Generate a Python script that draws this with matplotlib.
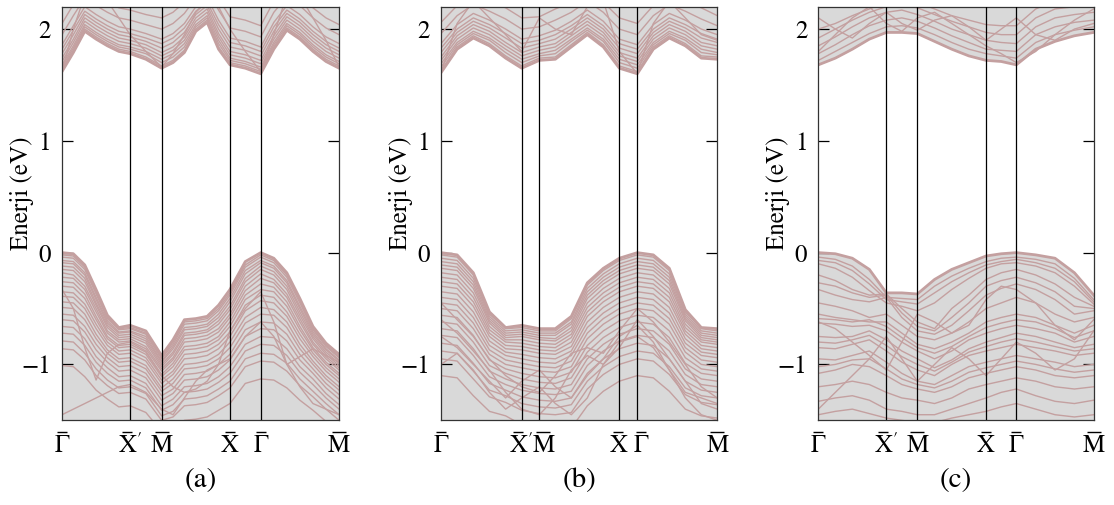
import matplotlib
matplotlib.use("Agg")
import matplotlib.pyplot as plt
import matplotlib.transforms as mtransforms

plt.rcParams["font.family"] = ["STIXGeneral", "DejaVu Serif"]
plt.rcParams["mathtext.fontset"] = "stix"

E_MIN, E_MAX = -1.5, 2.2
BAND_COLOR = "#c4a0a0"
FILL_COLOR = "#d9d9d9"

# high-symmetry points; an overbar is drawn above each letter
k_labels = [r"$\Gamma$", r"$\mathrm{X}'$", r"$\mathrm{M}$", r"$\mathrm{X}$", r"$\Gamma$", r"$\mathrm{M}$"]
bar_width_pt = [7.5, 7.5, 9.5, 7.5, 7.5, 9.5]
bar_shift_px = [0, -3, 0, 0, 0, 0]
panel_tags = ["(a)", "(b)", "(c)"]

# ---- panel (a) ----
k_a = [0.0, 11.3, 22.7, 34.0, 45.3, 56.7, 68.0, 83.7, 99.4, 110.8, 122.2, 133.6,
       144.9, 156.3, 167.7, 183.0, 198.4, 211.5, 224.5, 237.5, 250.6, 263.6, 276.7]
ticks_a = [0.0, 68.0, 99.4, 167.7, 198.4, 276.7]
vb_top_a = [0.00, -0.01, -0.11, -0.33, -0.56, -0.67, -0.65, -0.70, -0.92, -0.78, -0.60, -0.59,
            -0.57, -0.47, -0.33, -0.08, 0.00, -0.05, -0.18, -0.41, -0.66, -0.81, -0.91]
vb_a = [
    [-0.02, -0.03, -0.13, -0.35, -0.58, -0.68, -0.67, -0.72, -0.94, -0.80, -0.62, -0.61, -0.59, -0.50, -0.36, -0.11, -0.02, -0.07, -0.20, -0.43, -0.68, -0.83, -0.93],
    [-0.04, -0.05, -0.15, -0.37, -0.59, -0.69, -0.68, -0.73, -0.95, -0.82, -0.64, -0.63, -0.61, -0.52, -0.38, -0.13, -0.04, -0.09, -0.22, -0.45, -0.69, -0.84, -0.94],
    [-0.07, -0.08, -0.18, -0.40, -0.61, -0.71, -0.70, -0.75, -0.97, -0.84, -0.67, -0.66, -0.64, -0.55, -0.41, -0.16, -0.07, -0.12, -0.25, -0.48, -0.71, -0.86, -0.96],
    [-0.09, -0.10, -0.20, -0.42, -0.63, -0.72, -0.71, -0.77, -0.98, -0.86, -0.69, -0.68, -0.66, -0.58, -0.44, -0.19, -0.09, -0.14, -0.27, -0.50, -0.73, -0.87, -0.97],
    [-0.12, -0.13, -0.23, -0.45, -0.65, -0.74, -0.73, -0.79, -1.00, -0.89, -0.72, -0.71, -0.69, -0.61, -0.48, -0.23, -0.12, -0.17, -0.30, -0.53, -0.75, -0.89, -0.99],
    [-0.15, -0.16, -0.26, -0.47, -0.67, -0.76, -0.75, -0.81, -1.02, -0.91, -0.74, -0.73, -0.71, -0.64, -0.51, -0.26, -0.15, -0.20, -0.33, -0.56, -0.77, -0.91, -1.01],
    [-0.18, -0.20, -0.30, -0.50, -0.70, -0.78, -0.77, -0.84, -1.04, -0.94, -0.77, -0.76, -0.74, -0.68, -0.55, -0.30, -0.19, -0.24, -0.37, -0.59, -0.80, -0.93, -1.03],
    [-0.22, -0.23, -0.33, -0.53, -0.72, -0.80, -0.79, -0.86, -1.06, -0.96, -0.80, -0.79, -0.77, -0.71, -0.58, -0.34, -0.23, -0.27, -0.40, -0.62, -0.82, -0.95, -1.05],
    [-0.26, -0.27, -0.37, -0.57, -0.75, -0.83, -0.82, -0.89, -1.09, -0.99, -0.84, -0.83, -0.81, -0.75, -0.62, -0.38, -0.28, -0.31, -0.44, -0.66, -0.85, -0.98, -1.08],
    [-0.30, -0.31, -0.41, -0.60, -0.77, -0.85, -0.84, -0.91, -1.11, -1.02, -0.87, -0.86, -0.84, -0.78, -0.66, -0.42, -0.33, -0.35, -0.48, -0.69, -0.87, -1.00, -1.10],
    [-0.35, -0.36, -0.46, -0.64, -0.80, -0.88, -0.87, -0.94, -1.14, -1.06, -0.91, -0.90, -0.88, -0.82, -0.71, -0.47, -0.38, -0.40, -0.53, -0.73, -0.90, -1.03, -1.13],
    [-0.39, -0.40, -0.50, -0.68, -0.83, -0.91, -0.90, -0.97, -1.17, -1.09, -0.95, -0.94, -0.92, -0.86, -0.75, -0.52, -0.43, -0.45, -0.57, -0.77, -0.93, -1.06, -1.16],
    [-0.44, -0.45, -0.55, -0.73, -0.87, -0.95, -0.94, -1.01, -1.21, -1.13, -1.00, -0.99, -0.97, -0.91, -0.80, -0.58, -0.49, -0.51, -0.62, -0.82, -0.97, -1.10, -1.20],
    [-0.49, -0.50, -0.60, -0.77, -0.90, -0.98, -0.97, -1.04, -1.24, -1.17, -1.04, -1.03, -1.01, -0.95, -0.85, -0.63, -0.55, -0.56, -0.67, -0.86, -1.00, -1.13, -1.23],
    [-0.55, -0.56, -0.66, -0.82, -0.94, -1.02, -1.01, -1.08, -1.28, -1.22, -1.09, -1.08, -1.06, -1.00, -0.91, -0.69, -0.62, -0.63, -0.73, -0.91, -1.04, -1.17, -1.27],
    [-0.60, -0.61, -0.71, -0.87, -0.98, -1.06, -1.05, -1.12, -1.32, -1.26, -1.14, -1.13, -1.11, -1.05, -0.96, -0.75, -0.68, -0.69, -0.79, -0.96, -1.08, -1.21, -1.31],
    [-0.66, -0.67, -0.77, -0.93, -1.03, -1.11, -1.10, -1.17, -1.37, -1.31, -1.20, -1.19, -1.17, -1.11, -1.02, -0.82, -0.75, -0.76, -0.86, -1.02, -1.13, -1.26, -1.36],
    [-0.72, -0.73, -0.83, -0.98, -1.08, -1.15, -1.14, -1.21, -1.41, -1.36, -1.25, -1.24, -1.22, -1.16, -1.08, -0.88, -0.82, -0.83, -0.92, -1.07, -1.18, -1.30, -1.40],
    [-0.79, -0.80, -0.90, -1.04, -1.14, -1.21, -1.20, -1.26, -1.46, -1.42, -1.31, -1.30, -1.28, -1.22, -1.15, -0.95, -0.90, -0.91, -0.99, -1.13, -1.24, -1.35, -1.45],
    [-0.86, -0.87, -0.96, -1.10, -1.19, -1.26, -1.25, -1.31, -1.50, -1.47, -1.37, -1.36, -1.34, -1.28, -1.21, -1.02, -0.97, -0.98, -1.06, -1.19, -1.29, -1.40, -1.50],
    [-1.01, -1.02, -1.11, -1.23, -1.31, -1.38, -1.37, -1.43, -1.60, -1.58, -1.50, -1.49, -1.47, -1.41, -1.35, -1.17, -1.13, -1.14, -1.21, -1.32, -1.41, -1.51, -1.60],
    [-0.33, -0.50, -0.85, -1.14, -0.90, -0.82, -0.80, -0.88, -1.10, -1.20, -1.25, -1.22, -1.15, -1.00, -0.70, -0.50, -0.35, -0.62, -1.00, -0.93, -0.86, -0.92, -0.98],
    [-1.45, -1.40, -1.35, -1.30, -1.25, -1.20, -1.18, -1.25, -1.40, -1.45, -1.30, -1.15, -1.05, -1.00, -0.95, -0.75, -0.62, -0.75, -1.00, -1.20, -1.35, -1.40, -1.45],
]
cb_bot_a = [1.62, 1.79, 1.98, 1.91, 1.85, 1.80, 1.78, 1.73, 1.65, 1.70, 1.79, 1.98,
            2.06, 1.82, 1.68, 1.65, 1.60, 1.82, 1.99, 1.91, 1.80, 1.71, 1.65]
cb_a = [
    [1.64, 1.81, 2.00, 1.93, 1.87, 1.82, 1.80, 1.75, 1.67, 1.72, 1.81, 2.00, 2.08, 1.84, 1.70, 1.67, 1.62, 1.84, 2.01, 1.93, 1.82, 1.73, 1.67],
    [1.66, 1.83, 2.02, 1.95, 1.89, 1.84, 1.82, 1.78, 1.70, 1.75, 1.84, 2.02, 2.10, 1.87, 1.72, 1.69, 1.64, 1.86, 2.03, 1.95, 1.84, 1.75, 1.69],
    [1.68, 1.85, 2.04, 1.97, 1.91, 1.86, 1.84, 1.80, 1.73, 1.78, 1.87, 2.04, 2.12, 1.90, 1.74, 1.71, 1.66, 1.88, 2.05, 1.97, 1.86, 1.77, 1.71],
    [1.71, 1.88, 2.07, 2.00, 1.94, 1.89, 1.87, 1.83, 1.76, 1.81, 1.90, 2.07, 2.15, 1.93, 1.77, 1.74, 1.69, 1.91, 2.08, 2.00, 1.89, 1.80, 1.74],
    [1.74, 1.91, 2.10, 2.03, 1.97, 1.92, 1.90, 1.86, 1.79, 1.84, 1.93, 2.10, 2.18, 1.96, 1.80, 1.77, 1.72, 1.94, 2.11, 2.03, 1.92, 1.83, 1.77],
    [1.78, 1.95, 2.13, 2.06, 2.00, 1.95, 1.93, 1.89, 1.83, 1.88, 1.97, 2.13, 2.21, 2.00, 1.84, 1.81, 1.76, 1.98, 2.14, 2.06, 1.95, 1.86, 1.80],
    [1.82, 1.99, 2.16, 2.09, 2.03, 1.98, 1.96, 1.92, 1.87, 1.92, 2.01, 2.16, 2.24, 2.04, 1.88, 1.85, 1.80, 2.02, 2.17, 2.09, 1.98, 1.89, 1.83],
    [1.86, 2.03, 2.20, 2.13, 2.07, 2.02, 2.00, 1.96, 1.91, 1.96, 2.05, 2.20, 2.28, 2.08, 1.92, 1.89, 1.84, 2.06, 2.21, 2.13, 2.02, 1.93, 1.87],
    [1.95, 2.12, 2.28, 2.21, 2.15, 2.10, 2.08, 2.04, 2.00, 2.05, 2.14, 2.28, 2.36, 2.17, 2.01, 1.98, 1.93, 2.15, 2.29, 2.21, 2.10, 2.01, 1.95],
    [2.05, 2.22, 2.37, 2.30, 2.24, 2.19, 2.17, 2.13, 2.10, 2.15, 2.24, 2.37, 2.45, 2.27, 2.11, 2.08, 2.03, 2.25, 2.38, 2.30, 2.19, 2.10, 2.04],
    [1.62, 2.00, 2.30, 2.30, 2.25, 2.10, 1.95, 1.80, 1.66, 1.78, 1.95, 2.15, 2.25, 2.20, 2.00, 1.80, 1.62, 1.95, 2.30, 2.30, 2.10, 1.90, 1.66],
]

# ---- panel (b) ----
k_b = [0.0, 16.1, 32.3, 48.4, 64.6, 80.7, 98.3, 114.3, 130.3, 146.3, 162.3, 178.3,
       196.3, 212.3, 228.3, 244.3, 260.3, 276.3]
ticks_b = [0.0, 80.7, 98.3, 178.3, 196.3, 276.3]
vb_top_b = [0.00, -0.02, -0.18, -0.53, -0.67, -0.65, -0.68, -0.68, -0.57, -0.27, -0.14, -0.05,
            0.00, -0.02, -0.14, -0.51, -0.67, -0.68]
vb_b = [
    [-0.02, -0.04, -0.20, -0.55, -0.68, -0.67, -0.70, -0.70, -0.59, -0.29, -0.16, -0.07, -0.02, -0.04, -0.16, -0.53, -0.68, -0.70],
    [-0.05, -0.07, -0.23, -0.57, -0.70, -0.69, -0.72, -0.72, -0.62, -0.32, -0.19, -0.10, -0.05, -0.07, -0.19, -0.55, -0.70, -0.72],
    [-0.08, -0.10, -0.26, -0.59, -0.72, -0.71, -0.74, -0.74, -0.64, -0.35, -0.22, -0.13, -0.08, -0.10, -0.22, -0.57, -0.72, -0.74],
    [-0.11, -0.13, -0.29, -0.61, -0.74, -0.73, -0.76, -0.77, -0.67, -0.38, -0.25, -0.16, -0.11, -0.13, -0.25, -0.59, -0.74, -0.76],
    [-0.14, -0.16, -0.32, -0.63, -0.76, -0.75, -0.78, -0.79, -0.70, -0.41, -0.28, -0.19, -0.14, -0.16, -0.28, -0.61, -0.76, -0.78],
    [-0.18, -0.20, -0.36, -0.66, -0.78, -0.78, -0.81, -0.82, -0.73, -0.45, -0.32, -0.23, -0.18, -0.20, -0.32, -0.64, -0.78, -0.80],
    [-0.22, -0.24, -0.40, -0.69, -0.80, -0.81, -0.84, -0.85, -0.76, -0.49, -0.36, -0.27, -0.22, -0.24, -0.36, -0.67, -0.80, -0.82],
    [-0.26, -0.28, -0.44, -0.72, -0.83, -0.84, -0.87, -0.88, -0.80, -0.53, -0.40, -0.31, -0.26, -0.28, -0.40, -0.70, -0.83, -0.85],
    [-0.30, -0.32, -0.48, -0.75, -0.86, -0.87, -0.90, -0.91, -0.84, -0.57, -0.44, -0.35, -0.30, -0.32, -0.44, -0.73, -0.86, -0.88],
    [-0.35, -0.37, -0.53, -0.79, -0.89, -0.91, -0.94, -0.95, -0.88, -0.62, -0.49, -0.40, -0.35, -0.37, -0.49, -0.77, -0.89, -0.91],
    [-0.40, -0.42, -0.58, -0.83, -0.92, -0.95, -0.98, -0.99, -0.92, -0.67, -0.54, -0.45, -0.40, -0.42, -0.54, -0.81, -0.92, -0.94],
    [-0.45, -0.47, -0.63, -0.87, -0.96, -0.99, -1.02, -1.03, -0.97, -0.72, -0.59, -0.50, -0.45, -0.47, -0.59, -0.85, -0.96, -0.98],
    [-0.50, -0.52, -0.68, -0.91, -1.00, -1.03, -1.06, -1.07, -1.02, -0.77, -0.64, -0.55, -0.50, -0.52, -0.64, -0.89, -1.00, -1.02],
    [-0.56, -0.58, -0.74, -0.96, -1.04, -1.08, -1.11, -1.12, -1.07, -0.83, -0.70, -0.61, -0.56, -0.58, -0.70, -0.94, -1.04, -1.06],
    [-0.62, -0.64, -0.80, -1.01, -1.08, -1.13, -1.16, -1.17, -1.12, -0.89, -0.76, -0.67, -0.62, -0.64, -0.76, -0.99, -1.08, -1.10],
    [-0.68, -0.70, -0.86, -1.06, -1.13, -1.18, -1.21, -1.22, -1.18, -0.95, -0.82, -0.73, -0.68, -0.70, -0.82, -1.04, -1.13, -1.15],
    [-0.74, -0.76, -0.92, -1.11, -1.18, -1.23, -1.26, -1.27, -1.24, -1.01, -0.88, -0.79, -0.74, -0.76, -0.88, -1.09, -1.18, -1.20],
    [-0.81, -0.83, -0.99, -1.17, -1.23, -1.29, -1.32, -1.33, -1.30, -1.08, -0.95, -0.86, -0.81, -0.83, -0.95, -1.15, -1.23, -1.25],
    [-0.88, -0.90, -1.06, -1.23, -1.28, -1.35, -1.38, -1.39, -1.36, -1.15, -1.02, -0.93, -0.88, -0.90, -1.02, -1.21, -1.28, -1.30],
    [-0.95, -0.97, -1.13, -1.29, -1.34, -1.41, -1.44, -1.45, -1.43, -1.22, -1.09, -1.00, -0.95, -0.97, -1.09, -1.27, -1.34, -1.36],
    [-1.10, -1.12, -1.28, -1.42, -1.46, -1.54, -1.57, -1.58, -1.57, -1.37, -1.24, -1.15, -1.10, -1.12, -1.24, -1.40, -1.46, -1.48],
    [-0.45, -0.60, -0.75, -0.95, -1.10, -1.20, -1.25, -1.10, -0.90, -0.85, -0.90, -0.70, -0.50, -0.62, -0.80, -1.00, -1.20, -1.30],
    [-0.60, -0.72, -0.88, -1.05, -1.25, -1.40, -1.45, -1.30, -1.05, -0.92, -1.00, -0.85, -0.60, -0.75, -0.95, -1.15, -1.35, -1.40],
    [-0.75, -0.85, -1.00, -1.15, -1.30, -1.15, -1.05, -1.20, -1.30, -1.10, -0.95, -0.75, -0.65, -0.80, -1.05, -1.25, -1.30, -1.35],
    [-1.00, -0.90, -1.05, -1.25, -1.40, -1.30, -1.20, -1.35, -1.45, -1.30, -1.00, -0.80, -0.75, -0.85, -1.05, -1.30, -1.45, -1.50],
]
cb_bot_b = [1.61, 1.82, 1.92, 1.85, 1.74, 1.65, 1.72, 1.73, 1.84, 1.95, 1.84, 1.65,
            1.60, 1.82, 1.92, 1.85, 1.74, 1.73]
cb_b = [
    [1.63, 1.84, 1.94, 1.87, 1.76, 1.67, 1.74, 1.75, 1.86, 1.97, 1.86, 1.67, 1.62, 1.84, 1.94, 1.87, 1.76, 1.75],
    [1.66, 1.86, 1.96, 1.90, 1.79, 1.70, 1.76, 1.78, 1.89, 1.99, 1.89, 1.70, 1.65, 1.86, 1.96, 1.90, 1.79, 1.77],
    [1.69, 1.88, 1.98, 1.92, 1.82, 1.73, 1.78, 1.81, 1.91, 2.01, 1.91, 1.73, 1.68, 1.88, 1.98, 1.92, 1.82, 1.79],
    [1.72, 1.91, 2.01, 1.95, 1.85, 1.76, 1.81, 1.84, 1.94, 2.04, 1.94, 1.76, 1.71, 1.91, 2.01, 1.95, 1.85, 1.82],
    [1.75, 1.94, 2.04, 1.98, 1.88, 1.79, 1.84, 1.87, 1.97, 2.07, 1.97, 1.79, 1.74, 1.94, 2.04, 1.98, 1.88, 1.85],
    [1.79, 1.97, 2.07, 2.01, 1.92, 1.83, 1.87, 1.91, 2.00, 2.10, 2.00, 1.83, 1.78, 1.97, 2.07, 2.01, 1.92, 1.88],
    [1.83, 2.00, 2.10, 2.04, 1.96, 1.87, 1.90, 1.95, 2.03, 2.13, 2.03, 1.87, 1.82, 2.00, 2.10, 2.04, 1.96, 1.91],
    [1.87, 2.04, 2.14, 2.08, 2.00, 1.91, 1.94, 1.99, 2.07, 2.17, 2.07, 1.91, 1.86, 2.04, 2.14, 2.08, 2.00, 1.95],
    [1.96, 2.12, 2.22, 2.16, 2.09, 2.00, 2.02, 2.08, 2.15, 2.25, 2.15, 2.00, 1.95, 2.12, 2.22, 2.16, 2.09, 2.03],
    [2.06, 2.21, 2.31, 2.25, 2.19, 2.10, 2.11, 2.18, 2.24, 2.34, 2.24, 2.10, 2.05, 2.21, 2.31, 2.25, 2.19, 2.12],
    [1.61, 2.05, 2.25, 2.10, 1.95, 1.80, 2.10, 2.00, 1.95, 2.20, 2.25, 1.80, 1.60, 2.05, 2.25, 2.10, 1.95, 1.90],
]

# ---- panel (c) ----
k_c = [0.0, 17.0, 34.0, 51.0, 68.0, 83.5, 99.0, 116.2, 133.4, 150.5, 167.7, 182.9,
       198.0, 217.4, 236.7, 256.1, 275.4]
ticks_c = [0.0, 68.0, 99.0, 167.7, 198.0, 275.4]
vb_top_c = [0.00, -0.01, -0.05, -0.15, -0.36, -0.36, -0.37, -0.24, -0.15, -0.09, -0.03, -0.01,
            0.00, -0.02, -0.05, -0.18, -0.38]
vb_c = [
    [-0.04, -0.06, -0.12, -0.24, -0.40, -0.41, -0.42, -0.30, -0.21, -0.14, -0.08, -0.05, -0.04, -0.06, -0.10, -0.23, -0.42],
    [-0.07, -0.09, -0.16, -0.28, -0.42, -0.44, -0.46, -0.36, -0.26, -0.18, -0.11, -0.08, -0.06, -0.09, -0.14, -0.26, -0.44],
    [-0.10, -0.14, -0.22, -0.34, -0.45, -0.48, -0.52, -0.45, -0.33, -0.23, -0.14, -0.10, -0.09, -0.12, -0.18, -0.30, -0.46],
    [-0.20, -0.25, -0.33, -0.38, -0.37, -0.50, -0.62, -0.68, -0.50, -0.38, -0.24, -0.18, -0.15, -0.20, -0.28, -0.40, -0.48],
    [-0.27, -0.30, -0.36, -0.40, -0.38, -0.54, -0.66, -0.70, -0.58, -0.45, -0.30, -0.25, -0.22, -0.27, -0.35, -0.48, -0.50],
    [-0.33, -0.38, -0.42, -0.44, -0.40, -0.58, -0.70, -0.73, -0.65, -0.52, -0.38, -0.32, -0.28, -0.33, -0.42, -0.55, -0.52],
    [-0.45, -0.48, -0.52, -0.58, -0.55, -0.65, -0.75, -0.78, -0.72, -0.62, -0.50, -0.45, -0.40, -0.45, -0.55, -0.62, -0.58],
    [-0.55, -0.58, -0.60, -0.62, -0.62, -0.72, -0.82, -0.86, -0.80, -0.72, -0.62, -0.58, -0.55, -0.58, -0.65, -0.72, -0.65],
    [-0.59, -0.60, -0.62, -0.60, -0.66, -0.76, -0.85, -0.90, -0.84, -0.75, -0.67, -0.63, -0.60, -0.62, -0.68, -0.76, -0.70],
    [-0.63, -0.64, -0.66, -0.65, -0.70, -0.80, -0.88, -0.95, -0.88, -0.78, -0.72, -0.68, -0.65, -0.68, -0.72, -0.80, -0.75],
    [-0.75, -0.76, -0.75, -0.70, -0.78, -0.88, -0.95, -1.03, -0.96, -0.86, -0.80, -0.76, -0.72, -0.75, -0.80, -0.85, -0.82],
    [-0.80, -0.81, -0.78, -0.74, -0.83, -0.93, -1.00, -1.06, -0.98, -0.89, -0.84, -0.80, -0.77, -0.80, -0.84, -0.88, -0.86],
    [-0.85, -0.86, -0.82, -0.78, -0.88, -0.98, -1.05, -1.10, -1.00, -0.92, -0.88, -0.85, -0.82, -0.85, -0.88, -0.92, -0.90],
    [-0.95, -0.96, -0.92, -0.88, -0.98, -1.08, -1.15, -1.18, -1.10, -1.02, -0.98, -0.95, -0.92, -0.95, -0.98, -1.02, -1.00],
    [-1.02, -1.00, -0.96, -0.95, -1.04, -1.13, -1.18, -1.21, -1.15, -1.07, -1.03, -1.00, -0.97, -1.00, -1.04, -1.07, -1.05],
    [-1.08, -1.05, -1.00, -1.02, -1.10, -1.18, -1.22, -1.25, -1.20, -1.12, -1.08, -1.05, -1.02, -1.05, -1.10, -1.12, -1.10],
    [-1.20, -1.18, -1.15, -1.18, -1.25, -1.30, -1.32, -1.35, -1.30, -1.22, -1.18, -1.15, -1.12, -1.15, -1.20, -1.22, -1.20],
    [-1.33, -1.30, -1.28, -1.32, -1.40, -1.42, -1.45, -1.45, -1.40, -1.35, -1.30, -1.25, -1.22, -1.28, -1.33, -1.35, -1.32],
    [-1.45, -1.42, -1.40, -1.44, -1.48, -1.50, -1.52, -1.52, -1.48, -1.45, -1.42, -1.38, -1.35, -1.40, -1.45, -1.47, -1.45],
    [-0.62, -0.68, -0.80, -0.92, -1.05, -0.80, -0.55, -0.62, -0.72, -0.65, -0.42, -0.30, -0.33, -0.45, -0.65, -0.78, -0.60],
    [-1.40, -1.25, -1.10, -0.95, -0.75, -0.95, -1.15, -1.00, -0.85, -0.95, -1.10, -0.95, -0.80, -0.90, -1.05, -0.95, -0.70],
]
cb_bot_c = [1.68, 1.74, 1.82, 1.91, 1.97, 1.97, 1.96, 1.89, 1.82, 1.76, 1.72, 1.71,
            1.68, 1.82, 1.89, 1.94, 1.97]
cb_c = [
    [1.72, 1.80, 1.88, 1.96, 2.02, 2.03, 2.01, 1.95, 1.88, 1.82, 1.78, 1.76, 1.74, 1.88, 1.95, 1.99, 2.02],
    [1.78, 1.86, 1.95, 2.03, 2.08, 2.10, 2.07, 2.01, 1.94, 1.88, 1.82, 1.81, 1.80, 1.95, 2.02, 2.06, 2.08],
    [1.85, 1.93, 2.02, 2.10, 2.15, 2.17, 2.13, 2.07, 2.00, 1.95, 1.90, 1.88, 1.87, 2.02, 2.10, 2.13, 2.15],
    [1.92, 2.00, 2.08, 2.15, 2.20, 2.22, 2.19, 2.13, 2.07, 2.02, 1.97, 1.95, 1.95, 2.10, 2.18, 2.20, 2.21],
    [2.00, 2.05, 2.12, 2.18, 2.24, 2.26, 2.24, 2.18, 2.12, 2.08, 2.04, 2.03, 2.03, 2.18, 2.25, 2.27, 2.28],
    [1.80, 1.95, 2.10, 2.20, 2.05, 1.98, 2.10, 2.15, 2.05, 1.95, 1.85, 1.78, 1.70, 1.80, 1.95, 2.08, 2.18],
    [2.10, 2.00, 1.92, 2.05, 2.15, 2.05, 1.99, 2.08, 2.12, 2.02, 1.90, 2.00, 2.10, 1.95, 1.90, 2.00, 2.05],
]

panels = [
    (k_a, ticks_a, vb_top_a, vb_a, cb_bot_a, cb_a),
    (k_b, ticks_b, vb_top_b, vb_b, cb_bot_b, cb_b),
    (k_c, ticks_c, vb_top_c, vb_c, cb_bot_c, cb_c),
]
axes_left = [0.0557, 0.3959, 0.7346]
axes_width = [0.2487, 0.2480, 0.2472]
# in (b) the close-lying labels are nudged apart (pixels)
label_shift_px = [
    [0, 0, 0, 0, 0, 0],
    [0, -1, 4, -1, 4, 0],
    [0, 0, 0, 0, 0, 0],
]


def draw_panel(fig, ax, k, ticks, vb_top, vb, cb_bot, cb, tag, shifts):
    # shaded projected bulk continuum
    ax.fill_between(k, vb_top, E_MIN - 1, color=FILL_COLOR, lw=0, zorder=1)
    ax.fill_between(k, cb_bot, E_MAX + 1, color=FILL_COLOR, lw=0, zorder=1)

    for band in vb + cb:
        ax.plot(k, band, color=BAND_COLOR, lw=1.0, zorder=2)
    ax.plot(k, vb_top, color=BAND_COLOR, lw=2.0, zorder=2)
    ax.plot(k, cb_bot, color=BAND_COLOR, lw=2.0, zorder=2)

    for t in ticks[1:-1]:
        ax.axvline(t, color="black", lw=0.9, zorder=3)

    ax.set_xlim(ticks[0], ticks[-1])
    ax.set_ylim(E_MIN, E_MAX)
    ax.set_xticks(ticks)
    ax.set_xticklabels(k_labels, fontsize=18)
    ax.tick_params(axis="x", length=0, pad=10)

    # nudge labels and put the overbars on top of the letters
    xtrans = ax.get_xaxis_transform()
    for j, (t, lab) in enumerate(zip(ticks, ax.get_xticklabels())):
        dx = shifts[j] / fig.dpi
        if dx:
            lab.set_transform(lab.get_transform()
                              + mtransforms.ScaledTranslation(dx, 0, fig.dpi_scale_trans))
        bx = (shifts[j] + bar_shift_px[j]) / fig.dpi
        ax.plot([t], [-0.028], marker="_", ms=bar_width_pt[j], mew=1.0, color="black",
                transform=xtrans + mtransforms.ScaledTranslation(bx, 0, fig.dpi_scale_trans),
                clip_on=False)

    ax.set_yticks([-1, 0, 1, 2])
    ax.tick_params(axis="y", direction="in", length=8, width=0.9, labelsize=18,
                   right=True, pad=8)
    for s in ax.spines.values():
        s.set_color("#333333")
        s.set_linewidth(0.9)
    ax.set_ylabel("Enerji (eV)", fontsize=18, va="center")
    ax.yaxis.set_label_coords(-0.145, 0.55)
    ax.text(0.5, -0.145, tag, transform=ax.transAxes, ha="center", va="center",
            fontsize=21)


fig = plt.figure(figsize=(11.14, 5.05), dpi=100)
for i, (k, ticks, vb_top, vb, cb_bot, cb) in enumerate(panels):
    ax = fig.add_axes([axes_left[i], 0.1677, axes_width[i], 0.819])
    draw_panel(fig, ax, k, ticks, vb_top, vb, cb_bot, cb, panel_tags[i], label_shift_px[i])

fig.savefig("out.png", dpi=100)
